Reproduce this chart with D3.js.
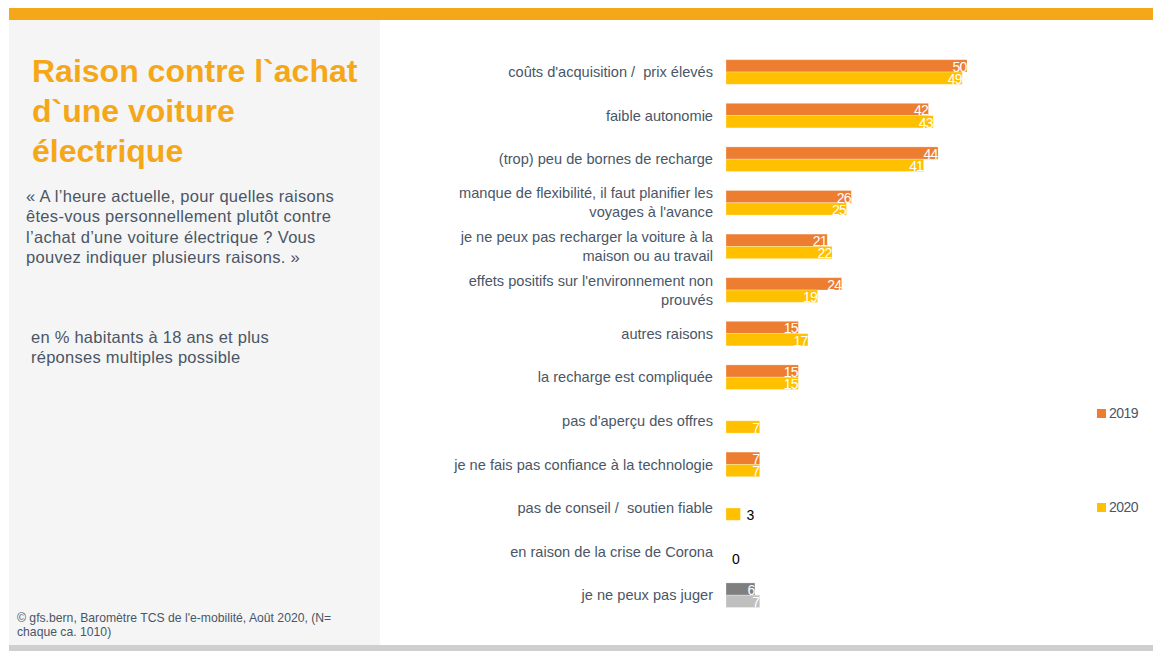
<!DOCTYPE html>
<html>
<head>
<meta charset="utf-8">
<script src="https://cdn.jsdelivr.net/npm/d3@7"></script>
<style>
  html, body { margin: 0; padding: 0; background: #fff; }
  svg { display: block; font-family: "Liberation Sans", Arial, sans-serif; }
  text { white-space: pre; }
</style>
</head>
<body>
<svg id="chart" width="1153" height="651"></svg>
<script>
// Reasons listed top to bottom; "\n" marks a line break in the label
const categories = [
  "coûts d'acquisition /  prix élevés",
  "faible autonomie",
  "(trop) peu de bornes de recharge",
  "manque de flexibilité, il faut planifier les\nvoyages à l'avance",
  "je ne peux pas recharger la voiture à la\nmaison ou au travail",
  "effets positifs sur l'environnement non\nprouvés",
  "autres raisons",
  "la recharge est compliquée",
  "pas d'aperçu des offres",
  "je ne fais pas confiance à la technologie",
  "pas de conseil /  soutien fiable",
  "en raison de la crise de Corona",
  "je ne peux pas juger"
];
const years = ["2019", "2020"];
const values2019 = [50, 42, 44, 26, 21, 24, 15, 15, null, 7, null, null, 6];
const values2020 = [49, 43, 41, 25, 22, 19, 17, 15, 7, 7, 3, 0, 7];

const titleLines = ["Raison contre l`achat", "d`une voiture", "électrique"];
const questionLines = [
  "« A l’heure actuelle, pour quelles raisons",
  "êtes-vous personnellement plutôt contre",
  "l’achat d’une voiture électrique ? Vous",
  "pouvez indiquer plusieurs raisons. »"
];
const baseLines = ["en % habitants à 18 ans et plus", "réponses multiples possible"];
const sourceLines = ["© gfs.bern, Baromètre TCS de l'e-mobilité, Août 2020, (N=", "chaque ca. 1010)"];

const colors = { "2019": "#ED7D31", "2020": "#FFC000" };
const neutralColors = { "2019": "#7F7F7F", "2020": "#BFBFBF" };
const textColor = "#4A5666";

const svg = d3.select("#chart");

// Frame: top accent band, grey side panel, bottom rule
svg.append("rect").attr("x", 9).attr("y", 8).attr("width", 1144).attr("height", 12).attr("fill", "#F5A71A");
svg.append("rect").attr("x", 9).attr("y", 20).attr("width", 371).attr("height", 625).attr("fill", "#F5F5F5");
svg.append("rect").attr("x", 9).attr("y", 645).attr("width", 1144).attr("height", 6).attr("fill", "#CFCFCF");

// Side panel texts
svg.append("g").selectAll("text").data(titleLines).join("text")
  .attr("x", 32).attr("y", (d, i) => 82 + i * 40)
  .attr("fill", "#F5A71A").attr("font-size", 32).attr("font-weight", "bold")
  .text(d => d);

svg.append("g").selectAll("text").data(questionLines).join("text")
  .attr("x", 26).attr("y", (d, i) => 202 + i * 20.3)
  .attr("fill", textColor).attr("font-size", 16.5).attr("letter-spacing", 0.3)
  .text(d => d);

svg.append("g").selectAll("text").data(baseLines).join("text")
  .attr("x", 31).attr("y", (d, i) => 343 + i * 20)
  .attr("fill", textColor).attr("font-size", 16.5).attr("letter-spacing", 0.25)
  .text(d => d);

svg.append("g").selectAll("text").data(sourceLines).join("text")
  .attr("x", 17).attr("y", (d, i) => 622 + i * 14)
  .attr("fill", textColor).attr("font-size", 12.2)
  .text(d => d);

// Scales
const x = d3.scaleLinear().domain([0, 50]).range([726, 967]);
const y = d3.scaleBand().domain(categories).range([50.2, 617]).paddingInner(0.436).paddingOuter(0.218);
const ySub = d3.scaleBand().domain(years).range([0, y.bandwidth()]);

const rows = categories.map((c, i) => ({
  category: c,
  neutral: c === "je ne peux pas juger",
  values: [
    { year: "2019", value: values2019[i] },
    { year: "2020", value: values2020[i] }
  ]
}));

// Category labels, right aligned against the bars
const labels = svg.append("g").selectAll("text").data(rows).join("text")
  .attr("text-anchor", "end")
  .attr("fill", textColor).attr("font-size", 14.6);
labels.each(function (d) {
  const lines = d.category.split("\n");
  const cy = y(d.category) + y.bandwidth() / 2;
  const lh = 19;
  d3.select(this).selectAll("tspan").data(lines).join("tspan")
    .attr("x", 713)
    .attr("y", (l, i) => cy + (i - (lines.length - 1) / 2) * lh)
    .attr("dy", "0.35em")
    .text(l => l);
});

// Bars first, then value labels on top of every bar
const cells = rows.flatMap(r => r.values
  .filter(v => v.value !== null)
  .map(v => ({ ...v, category: r.category, neutral: r.neutral })));

const yPos = d => y(d.category) + ySub(d.year);
const inside = d => d.value >= 5;

svg.append("g").selectAll("rect").data(cells).join("rect")
  .attr("x", x(0))
  .attr("y", yPos)
  .attr("width", d => x(d.value) - x(0))
  .attr("height", ySub.bandwidth())
  .attr("fill", d => (d.neutral ? neutralColors : colors)[d.year])
  .attr("stroke", "#fff").attr("stroke-opacity", 0.35).attr("stroke-width", 0.8);

svg.append("g").selectAll("text").data(cells).join("text")
  .attr("x", d => inside(d) ? x(d.value) - 0.5 : x(d.value) + 6)
  .attr("y", d => yPos(d) + ySub.bandwidth() / 2 + 1)
  .attr("dy", "0.35em")
  .attr("text-anchor", d => inside(d) ? "end" : "start")
  .attr("fill", d => inside(d) ? "#fff" : "#000")
  .attr("font-size", 14).attr("letter-spacing", d => inside(d) ? -0.8 : 0)
  .text(d => d.value);

// Legend
const legend = svg.append("g").selectAll("g").data(years).join("g")
  .attr("transform", (d, i) => `translate(1097,${409 + i * 94})`);
legend.append("rect").attr("width", 9).attr("height", 9).attr("fill", d => colors[d]);
legend.append("text").attr("x", 12).attr("y", 4.5).attr("dy", "0.35em")
  .attr("fill", textColor).attr("font-size", 14).attr("letter-spacing", -0.5)
  .text(d => d);
</script>
</body>
</html>
